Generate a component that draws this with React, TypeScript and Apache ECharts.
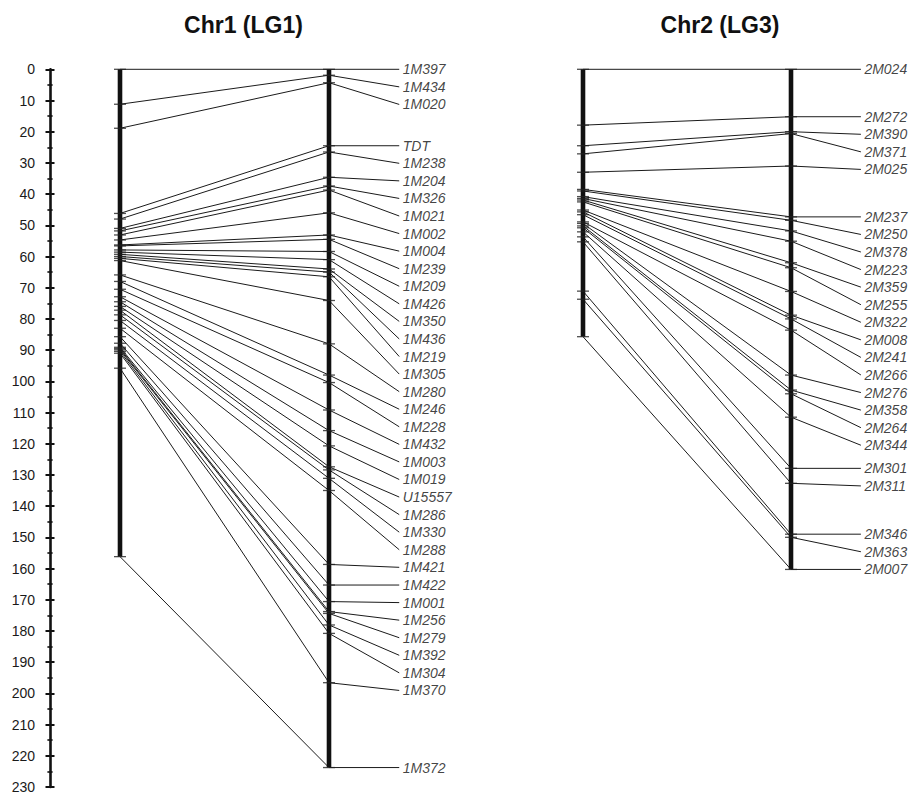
import { useEffect, useRef } from 'react';
import * as echarts from 'echarts';

// ---------- data (cM) ----------
const chr1Markers = ['1M397', '1M434', '1M020', 'TDT', '1M238', '1M204', '1M326', '1M021', '1M002', '1M004', '1M239', '1M209', '1M426', '1M350', '1M436', '1M219', '1M305', '1M280', '1M246', '1M228', '1M432', '1M003', '1M019', 'U15557', '1M286', '1M330', '1M288', '1M421', '1M422', '1M001', '1M256', '1M279', '1M392', '1M304', '1M370', '1M372'];
const chr1MapA = [0, 11.2, 18.9, 46.2, 48.0, 51.0, 51.8, 53.1, 54.7, 56.3, 56.6, 57.9, 58.6, 59.3, 60.0, 60.6, 61.3, 65.9, 68.0, 70.5, 72.9, 74.5, 76.0, 77.2, 78.7, 80.5, 83.0, 85.7, 87.8, 89.1, 89.5, 89.9, 90.4, 91.0, 95.8, 156.2];
const chr1MapB = [0, 1.9, 4.3, 24.5, 26.5, 34.6, 37.4, 38.7, 46.0, 53.1, 54.5, 58.4, 61.0, 64.0, 65.0, 66.5, 74.1, 88.0, 98.0, 100.4, 109.2, 115.8, 120.7, 127.4, 128.4, 131.1, 135.0, 158.7, 165.3, 170.6, 173.8, 174.4, 178.1, 180.8, 196.6, 223.8];

const chr2Markers = ['2M024', '2M272', '2M390', '2M371', '2M025', '2M237', '2M250', '2M378', '2M223', '2M359', '2M255', '2M322', '2M008', '2M241', '2M266', '2M276', '2M358', '2M264', '2M344', '2M301', '2M311', '2M346', '2M363', '2M007'];
const chr2MapA = [0, 17.9, 24.5, 27.1, 33.0, 38.5, 39.0, 40.8, 41.4, 41.9, 42.5, 45.1, 45.7, 46.6, 48.9, 49.4, 50.2, 50.8, 52.1, 53.7, 55.3, 71.1, 73.7, 85.7];
const chr2MapB = [0, 15.2, 20.0, 20.6, 31.0, 47.3, 48.4, 51.8, 55.1, 62.0, 63.6, 71.2, 78.8, 80.0, 83.6, 98.0, 102.8, 104.0, 111.5, 127.9, 132.7, 149.0, 150.0, 160.3];

const titles = ['Chr1 (LG1)', 'Chr2 (LG3)'];
const axisMin = 0;
const axisMax = 230;
const axisInterval = 10;

// ---------- layout constants ----------
const LABEL_X = 1.336; // connector end, in bar-axis units (0 = map A, 1 = map B)
const LABEL_GAP = 5.63; // minimal label spacing in cM
const FONT = '"Liberation Sans", Arial, sans-serif';
const INK = '#111';

function layoutLabels(values: number[], gap: number): number[] {
  const out: number[] = [];
  values.forEach((v, i) => {
    out.push(i === 0 ? v : Math.max(v, out[i - 1] + gap));
  });
  return out;
}

function buildSeries(gridIdx: number, yIdx: number, names: string[], mapA: number[], mapB: number[]) {
  const labelPos = layoutLabels(mapB, LABEL_GAP);
  const endA = Math.max(...mapA);
  const endB = Math.max(...mapB);
  const common = { xAxisIndex: gridIdx, yAxisIndex: yIdx, silent: true };
  return [
    {
      ...common,
      type: 'lines',
      coordinateSystem: 'cartesian2d',
      polyline: true,
      clip: false,
      z: 2,
      lineStyle: { color: '#000', width: 0.9, opacity: 1, curveness: 0 },
      data: names.map((_, i) => ({
        coords: [
          [0, mapA[i]],
          [1, mapB[i]],
          [LABEL_X, labelPos[i]],
        ],
      })),
    },
    {
      ...common,
      type: 'line',
      symbol: 'none',
      z: 3,
      lineStyle: { color: INK, width: 4.6 },
      data: [
        [0, 0],
        [0, endA],
      ],
    },
    {
      ...common,
      type: 'line',
      symbol: 'none',
      z: 3,
      lineStyle: { color: INK, width: 4.6 },
      data: [
        [1, 0],
        [1, endB],
      ],
    },
    {
      ...common,
      type: 'scatter',
      symbol: 'rect',
      symbolSize: [12, 1.3],
      clip: false,
      z: 4,
      itemStyle: { color: '#222' },
      data: mapA.map((v) => [0, v]).concat(mapB.map((v) => [1, v])),
    },
    {
      ...common,
      type: 'scatter',
      symbolSize: 1,
      clip: false,
      z: 5,
      itemStyle: { color: 'transparent' },
      label: {
        show: true,
        position: 'right',
        distance: 3,
        formatter: '{b}',
        fontStyle: 'italic',
        fontSize: 14,
        fontFamily: FONT,
        color: INK,
      },
      data: names.map((n, i) => ({ name: n, value: [LABEL_X, labelPos[i]] })),
    },
  ];
}

export default function App() {
  const ref = useRef<HTMLDivElement>(null);

  useEffect(() => {
    if (!ref.current) return;
    const chart = echarts.init(ref.current, undefined, { renderer: 'svg' });

    const yBase = {
      type: 'value',
      inverse: true,
      min: axisMin,
      max: axisMax,
      interval: axisInterval,
      splitLine: { show: false },
    };
    const tickStyle = { color: INK, width: 2 };
    const minorStyle = { color: INK, width: 1.6 };

    chart.setOption({
      animation: false,
      backgroundColor: '#fff',
      graphic: [
        {
          type: 'text',
          x: 243.5,
          y: 25,
          style: { text: titles[0], textAlign: 'center', textVerticalAlign: 'middle', font: `bold 23px ${FONT}`, fill: INK },
        },
        {
          type: 'text',
          x: 720,
          y: 25,
          style: { text: titles[1], textAlign: 'center', textVerticalAlign: 'middle', font: `bold 23px ${FONT}`, fill: INK },
        },
      ],
      grid: [
        { left: 120, width: 209, top: 69.3, bottom: 10.1 },
        { left: 583, width: 208, top: 69.3, bottom: 10.1 },
      ],
      xAxis: [
        { type: 'value', gridIndex: 0, min: 0, max: 1, show: false },
        { type: 'value', gridIndex: 1, min: 0, max: 1, show: false },
      ],
      yAxis: [
        {
          ...yBase,
          gridIndex: 0,
          position: 'left',
          offset: 70,
          axisLine: { show: true, onZero: false, lineStyle: { color: INK, width: 2.6 } },
          axisTick: { show: true, length: 4.5, lineStyle: tickStyle },
          minorTick: { show: true, splitNumber: 2, length: 2.6, lineStyle: minorStyle },
          axisLabel: { show: true, margin: 15, fontSize: 14, color: '#1a1a1a', fontFamily: FONT },
        },
        {
          ...yBase,
          gridIndex: 0,
          position: 'left',
          offset: 70,
          axisLine: { show: false, onZero: false },
          axisTick: { show: true, inside: true, length: 4.5, lineStyle: tickStyle },
          minorTick: { show: true, splitNumber: 2, length: 2.6, lineStyle: minorStyle },
          axisLabel: { show: false },
        },
        { ...yBase, gridIndex: 1, show: false, axisLine: { onZero: false } },
      ],
      series: [
        ...buildSeries(0, 0, chr1Markers, chr1MapA, chr1MapB),
        ...buildSeries(1, 2, chr2Markers, chr2MapA, chr2MapB),
      ],
    });

    return () => chart.dispose();
  }, []);

  return (
    <div
      ref={ref}
      style={{ position: 'fixed', left: 0, top: 0, width: 920, height: 797, background: '#fff' }}
    />
  );
}
